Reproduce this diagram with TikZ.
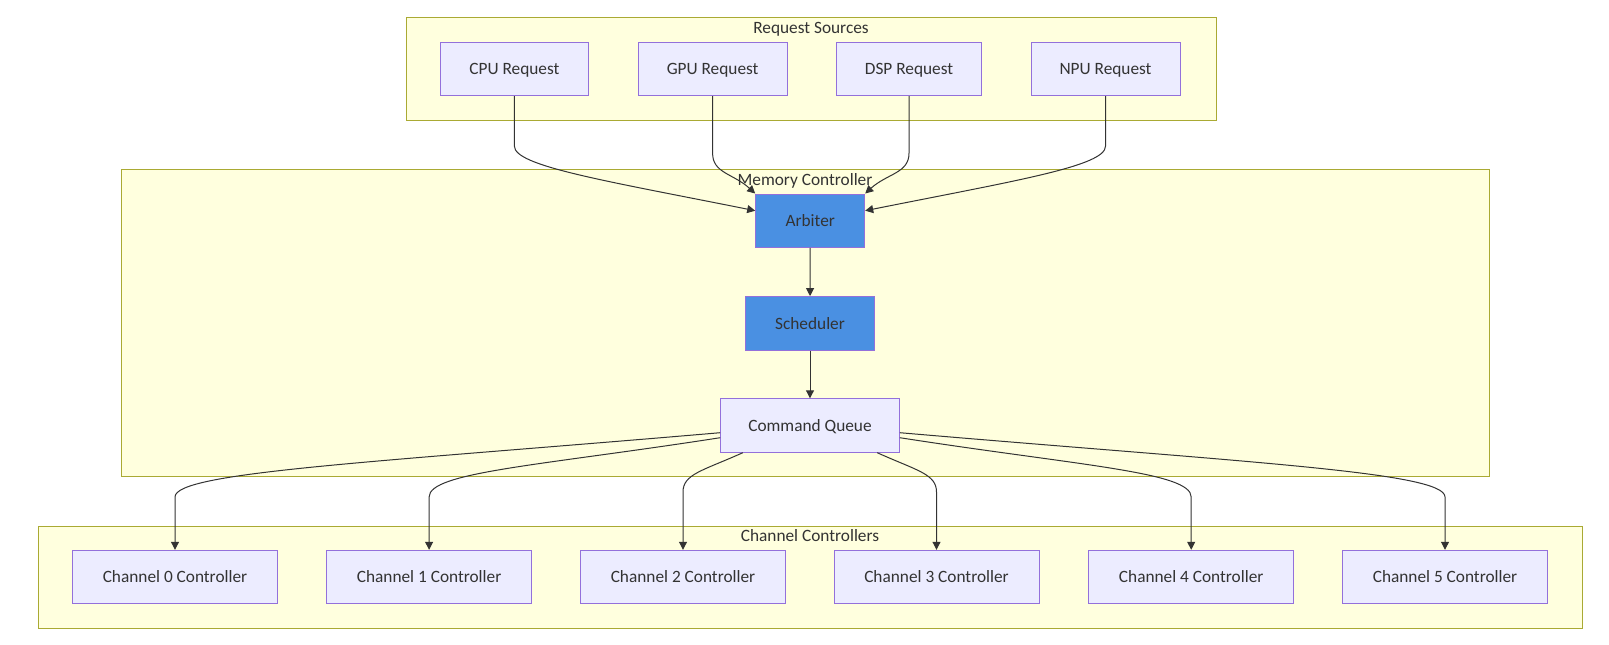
\documentclass[tikz,border=0pt]{standalone}
\usepackage{fontspec}
\setmainfont{Carlito}
\usetikzlibrary{arrows.meta,positioning}
\definecolor{boxfill}{HTML}{ECECFF}
\definecolor{boxline}{HTML}{9370DB}
\definecolor{grpfill}{HTML}{FFFFDE}
\definecolor{grpline}{HTML}{AAAA33}
\definecolor{hot}{HTML}{4A90E2}
\definecolor{txt}{HTML}{333333}

\begin{document}
\begin{tikzpicture}[x=1pt,y=-1pt,>={Triangle[length=8pt,width=8pt]},
  every node/.style={font=\fontsize{17.3}{20}\selectfont,text=txt,text height=11.4pt,text depth=0pt},
  unit/.style={draw=boxline,fill=boxfill,line width=1pt,minimum height=53.4pt,inner sep=0pt},
  hotunit/.style={unit,fill=hot},
  grp/.style={draw=grpline,fill=grpfill,line width=1pt},
  link/.style={->,draw=txt,line width=1pt}]
\fill[white] (0,0) rectangle (1609,645);
\useasboundingbox (0,0) rectangle (1609,645);
\draw[grp] (406,17.3) rectangle (1216.5,120.3);
\draw[grp] (121,169.3) rectangle (1489,476.5);
\draw[grp] (38,526) rectangle (1582.5,628.3);
\node (srclbl) at (811,28.3) {Request Sources};
\node (memlbl) at (805,180) {Memory Controller};
\node (chlbl) at (810,536) {Channel Controllers};
\node[unit,minimum width=148pt] (cpu) at (514.4,69) {CPU Request};
\node[unit,minimum width=149pt] (gpu) at (712.6,69) {GPU Request};
\node[unit,minimum width=145pt] (dsp) at (909,69) {DSP Request};
\node[unit,minimum width=149pt] (npu) at (1105.5,69) {NPU Request};
\node[hotunit,minimum width=109pt] (arb) at (810.2,220.7) {Arbiter};
\node[hotunit,minimum width=128.6pt] (sch) at (810,323.3) {Scheduler};
\node[unit,minimum width=178.6pt] (cq) at (810,425.5) {Command Queue};
\foreach \i/\cx in {0/175,1/429.1,2/683,3/936.5,4/1191.2,5/1445}{
\node[unit,minimum width=205pt] (ch\i) at (\cx,577) {Channel \i{} Controller};}
\draw[link] (cpu.south) -- ++(0,50) .. controls +(0,20) and +(-150,-30) .. ([yshift=10pt]arb.west);
\draw[link] (gpu.south) -- ++(0,57) .. controls +(0,20) and +(-22,-20) .. (arb.north west);
\draw[link] (dsp.south) -- ++(0,57) .. controls +(0,20) and +(22,-20) .. (arb.north east);
\draw[link] (npu.south) -- ++(0,50) .. controls +(0,20) and +(150,-30) .. ([yshift=10pt]arb.east);
\draw[link] (arb) -- (sch);
\draw[link] (sch) -- (cq);
\draw[link] ([yshift=-7.2pt]cq.west) .. controls +(-350,30) and +(0,-25) .. (175,497) -- (ch0.north);
\draw[link] ([yshift=-12.2pt]cq.west) .. controls +(-180,28) and +(0,-25) .. (429.1,497) -- (ch1.north);
\draw[link] ([xshift=22.6pt]cq.south west) .. controls +(-40,18) and +(0,-18) .. (683,492) -- (ch2.north);
\draw[link] ([xshift=-22.6pt]cq.south east) .. controls +(40,18) and +(0,-18) .. (936.5,492) -- (ch3.north);
\draw[link] ([yshift=-12.2pt]cq.east) .. controls +(180,28) and +(0,-25) .. (1191.2,497) -- (ch4.north);
\draw[link] ([yshift=-7.2pt]cq.east) .. controls +(350,30) and +(0,-25) .. (1445,497) -- (ch5.north);
\end{tikzpicture}
\end{document}
